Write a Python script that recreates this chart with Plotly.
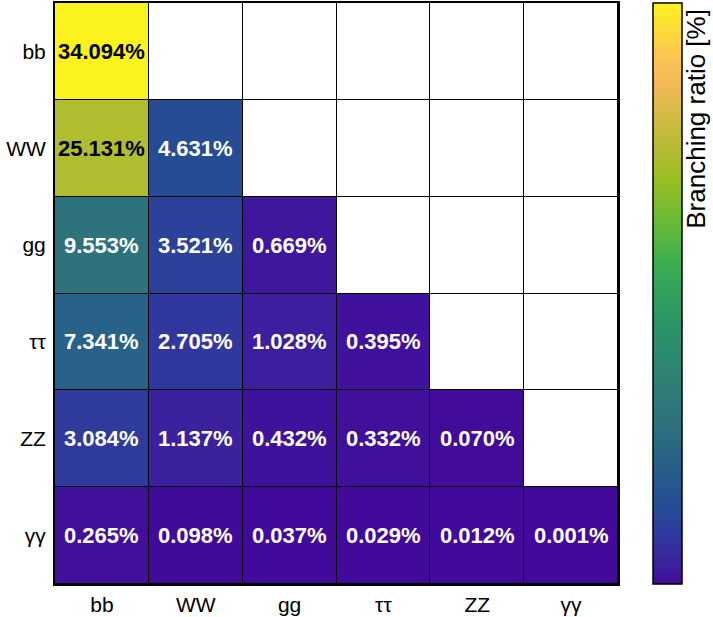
import plotly.graph_objects as go

labels = ["bb", "WW", "gg", "ττ", "ZZ", "γγ"]
# rows (top to bottom) x columns (left to right); None = empty upper triangle
br_values = [
    [34.094, None, None, None, None, None],
    [25.131, 4.631, None, None, None, None],
    [9.553, 3.521, 0.669, None, None, None],
    [7.341, 2.705, 1.028, 0.395, None, None],
    [3.084, 1.137, 0.432, 0.332, 0.070, None],
    [0.265, 0.098, 0.037, 0.029, 0.012, 0.001],
]
text_colors_dark_above = 20.0  # values above this get black text

colorscale = [
    [0.00, "#42099a"],
    [0.03, "#3c1f9e"],
    [0.08, "#30379f"],
    [0.13, "#264c95"],
    [0.20, "#275e8a"],
    [0.28, "#2e727d"],
    [0.35, "#2e8075"],
    [0.45, "#2a9568"],
    [0.55, "#3aad52"],
    [0.62, "#66bb35"],
    [0.70, "#9cbe22"],
    [0.78, "#c5bb3d"],
    [0.86, "#f2b955"],
    [0.90, "#fdc255"],
    [1.00, "#fcf21e"],
]

FONT = "Liberation Sans, Arial, Helvetica, sans-serif"

zmax = max(v for row in br_values for v in row if v is not None)
empty = [[1 if v is None else None for v in row] for row in br_values]

fig = go.Figure()
fig.add_trace(go.Heatmap(
    z=br_values, x=labels, y=labels,
    colorscale=colorscale, zmin=0, zmax=zmax,
    xgap=1, ygap=1, hoverongaps=False,
    colorbar=dict(
        x=1.062, xanchor="left", xref="paper",
        y=0.5, yanchor="middle", len=1.0, lenmode="fraction",
        thickness=29, thicknessmode="pixels", xpad=0, ypad=0,
        outlinecolor="black", outlinewidth=1.5,
        showticklabels=False, ticks="",
    ),
))
fig.add_trace(go.Heatmap(
    z=empty, x=labels, y=labels,
    colorscale=[[0, "white"], [1, "white"]], showscale=False,
    xgap=1, ygap=1, hoverinfo="skip",
))

for i, row in enumerate(br_values):
    for j, v in enumerate(row):
        if v is None:
            continue
        fig.add_annotation(
            x=labels[j], y=labels[i], text=f"<b>{v:.3f}%</b>", showarrow=False,
            font=dict(family=FONT, size=22,
                      color="black" if v > text_colors_dark_above else "white"),
        )

fig.add_annotation(
    xref="paper", yref="paper", x=1.137, y=0.801, xanchor="center", yanchor="middle",
    text="Branching ratio [%]", textangle=-90, showarrow=False,
    font=dict(family=FONT, size=26, color="black"),
)

fig.update_layout(
    width=713, height=617, autosize=False,
    margin=dict(l=55, r=95, t=3, b=33, autoexpand=False),
    paper_bgcolor="white", plot_bgcolor="black",
    font=dict(family=FONT, size=21, color="black"),
)
fig.update_xaxes(
    type="category", showgrid=False, zeroline=False, ticks="",
    showline=True, linecolor="black", linewidth=2, mirror=True,
    ticklabelstandoff=1, tickfont=dict(size=21),
)
fig.update_yaxes(
    type="category", autorange="reversed", showgrid=False, zeroline=False, ticks="",
    showline=True, linecolor="black", linewidth=2, mirror=True,
    ticklabelstandoff=3, tickfont=dict(size=21),
)

fig.write_html("out.html", config={"displayModeBar": False},
               post_script="document.body.style.margin='0';")
